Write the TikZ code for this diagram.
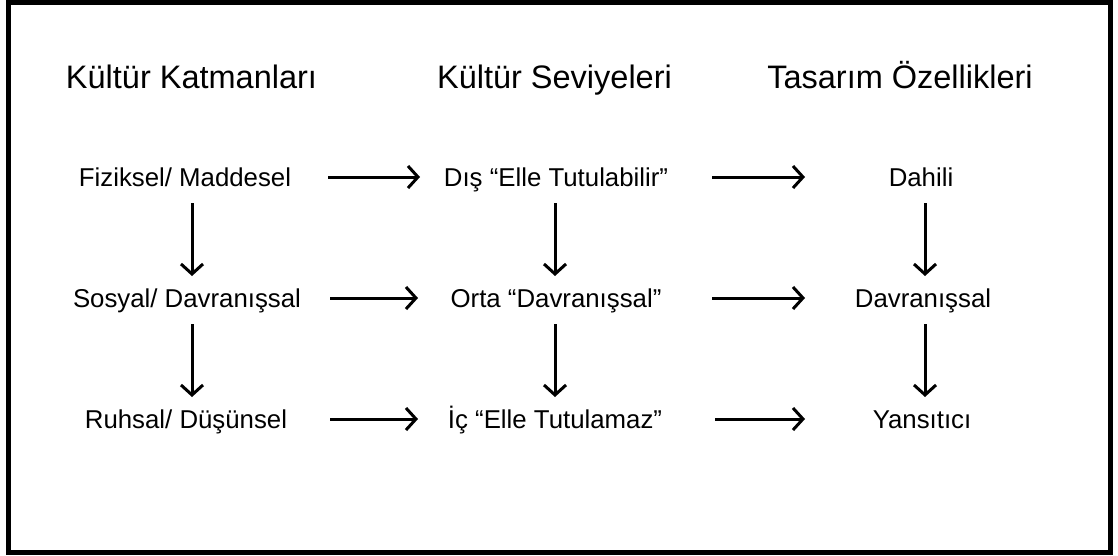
\documentclass[tikz,border=0pt]{standalone}
\usepackage{fontspec}
\setmainfont{Liberation Sans}
\usetikzlibrary{arrows.meta}
\begin{document}
\begin{tikzpicture}[x=1pt,y=-1pt,
  head/.style={font=\fontsize{32.5}{38}\selectfont, inner sep=0pt, anchor=base},
  item/.style={font=\fontsize{25.8}{30}\selectfont, inner sep=0pt, anchor=base},
  arr/.style={line width=3pt, -{Straight Barb[length=10pt,width=22pt,line width=3pt]}}]
\useasboundingbox (0,0) rectangle (1118,555);
\fill[white] (0,0) rectangle (1118,555);
\draw[line width=5pt] (8.5,2.5) rectangle (1110.5,552.5);
% headers
\node[head] (h1) at (191.5,88) {Kültür Katmanları};
\node[head] (h2) at (554.5,88) {Kültür Seviyeleri};
\node[head] (h3) at (900,88) {Tasarım Özellikleri};
% column 1
\node[item] (a1) at (185,186) {Fiziksel/ Maddesel};
\node[item] (a2) at (187,307) {Sosyal/ Davranışsal};
\node[item] (a3) at (186,428) {Ruhsal/ Düşünsel};
% column 2
\node[item] (b1) at (556,186) {Dış “Elle Tutulabilir”};
\node[item] (b2) at (556,307) {Orta “Davranışsal”};
\node[item] (b3) at (555,428) {İç “Elle Tutulamaz”};
% column 3
\node[item] (c1) at (921,186) {Dahili};
\node[item] (c2) at (923,307) {Davranışsal};
\node[item] (c3) at (922,428) {Yansıtıcı};
% coordinates for arrows
\coordinate (a1r) at (328,177); \coordinate (b1l) at (420,177);
\coordinate (b1r) at (712,177); \coordinate (c1l) at (805,177);
\coordinate (a2r) at (330,298); \coordinate (b2l) at (418,298);
\coordinate (b2r) at (712,298); \coordinate (c2l) at (805,298);
\coordinate (a3r) at (330,419); \coordinate (b3l) at (418,419);
\coordinate (b3r) at (715,419); \coordinate (c3l) at (805,419);
\coordinate (a1b) at (192,203); \coordinate (a2t) at (192,276);
\coordinate (a2b) at (192,324); \coordinate (a3t) at (192,397);
\coordinate (b1b) at (555,203); \coordinate (b2t) at (555,276);
\coordinate (b2b) at (555,324); \coordinate (b3t) at (555,397);
\coordinate (c1b) at (925,203); \coordinate (c2t) at (925,276);
\coordinate (c2b) at (925,324); \coordinate (c3t) at (925,397);
\draw[arr] (a1r) -- (b1l);
\draw[arr] (b1r) -- (c1l);
\draw[arr] (a2r) -- (b2l);
\draw[arr] (b2r) -- (c2l);
\draw[arr] (a3r) -- (b3l);
\draw[arr] (b3r) -- (c3l);
\draw[arr] (a1b) -- (a2t);
\draw[arr] (a2b) -- (a3t);
\draw[arr] (b1b) -- (b2t);
\draw[arr] (b2b) -- (b3t);
\draw[arr] (c1b) -- (c2t);
\draw[arr] (c2b) -- (c3t);
\end{tikzpicture}
\end{document}
